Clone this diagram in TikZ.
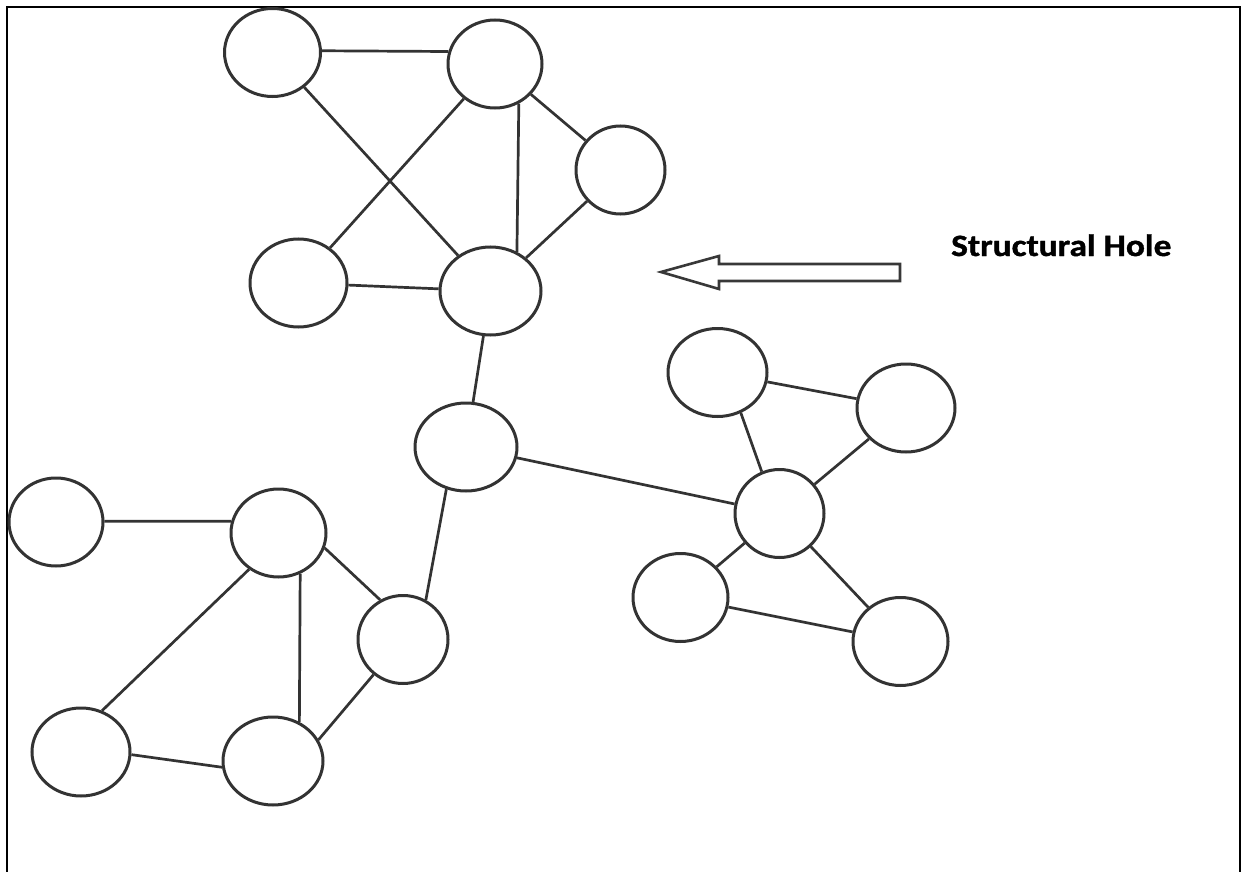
\documentclass[tikz,border=0pt]{standalone}
\usepackage{fontspec}
\newfontfamily\labelfont[FakeStretch=1.14,FakeBold=1.2]{Carlito}
\usetikzlibrary{shapes.geometric}
\tikzset{
  x=1pt, y=-1pt,
  actor/.style={ellipse, draw=black!80, line width=3pt, inner sep=0pt,
    minimum width=#1*2pt, minimum height=88pt},
  actor/.default=47,
  tie/.style={draw=black!80, line width=2.7pt},
  frame/.style={draw=black, line width=2.4pt},
  hollowarrow/.style={draw=black!78, line width=2.6pt, fill=white, line join=miter},
}
\begin{document}
\begin{tikzpicture}
\useasboundingbox (0,0) rectangle (1245,872);
\draw[frame] (7,872) -- (7,7) -- (1240,7) -- (1240,872);

% upper cluster
\node[actor=48] (A) at (272.5,52.5) {};
\node[actor=47] (B) at (495,64) {};
\node[actor=44.5] (C) at (620.5,170) {};
\node[actor=48.5] (D) at (298.5,283) {};
\node[actor=50.5] (E) at (490.5,291) {};
% bridge node
\node[actor=51] (F) at (466,447) {};
% right cluster
\node[actor=49.5] (G) at (717.5,372.5) {};
\node[actor=49] (H) at (906,408) {};
\node[actor=44.5] (I) at (779.5,513.5) {};
\node[actor=47.5] (J) at (680.5,597.5) {};
\node[actor=47.5] (K) at (900.5,641.5) {};
% lower left cluster
\node[actor=47] (L) at (56,522) {};
\node[actor=47.5] (M) at (278.5,533) {};
\node[actor=45] (N) at (403,639.5) {};
\node[actor=49] (O) at (81,752) {};
\node[actor=50] (P) at (273,761) {};

% ties of the upper cluster
\draw[tie] (A.2) -- (B.165);
\draw[tie] (A) -- (E);
\draw[tie] (B) -- (D);
\draw[tie] (B.-59) -- (E.56);
\draw[tie] (B) -- (C);
\draw[tie] (C) -- (E);
\draw[tie] (D) -- (E);
% bridges
\draw[tie] (E) -- (F);
\draw[tie] (F) -- (I);
\draw[tie] (F.-115) -- (N.60);
% ties of the right cluster
\draw[tie] (G) -- (H);
\draw[tie] (G.-60) -- (I.113);
\draw[tie] (H) -- (I);
\draw[tie] (I) -- (J);
\draw[tie] (I) -- (K);
\draw[tie] (J) -- (K);
% ties of the lower left cluster
\draw[tie] (L.1) -- (M.166);
\draw[tie] (M.-18) -- (N.120);
\draw[tie] (M.-129) -- (O.63);
\draw[tie] (M.-62) -- (P.56);
\draw[tie] (N.-130) -- (P.25);
\draw[tie] (O.-3) -- (P.-173);

% hollow arrow and its label
\coordinate (tip) at (661,272);
\draw[hollowarrow] (tip) -- (719,256) -- (719,264) -- (900,264) -- (900,281)
  -- (719,281) -- (719,289) -- cycle;
\node[font=\labelfont\bfseries\fontsize{31}{36}\selectfont, anchor=base west,
  inner sep=0pt] (label) at (951,256) {Structural Hole};
\end{tikzpicture}
\end{document}
